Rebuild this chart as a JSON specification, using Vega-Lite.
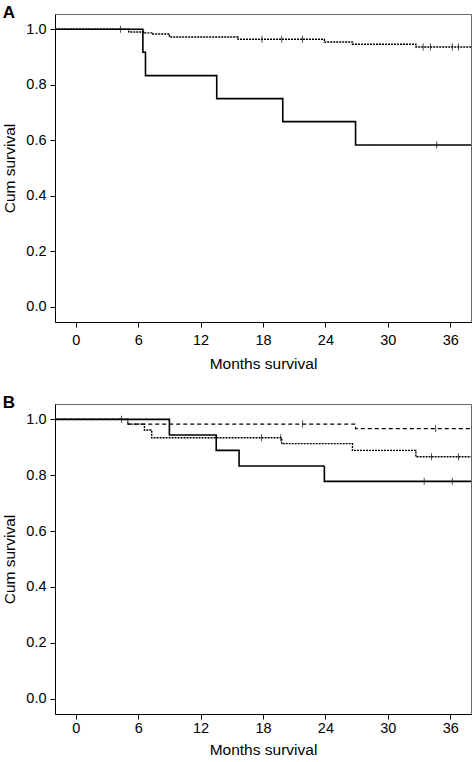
{
  "$schema": "https://vega.github.io/schema/vega-lite/v6.json",
  "padding": {"left": 2, "top": 3, "right": 1, "bottom": 0},
  "spacing": 20,
  "config": {
    "font": "Liberation Sans",
    "view": {"stroke": "#666", "strokeWidth": 1},
    "axis": {"grid": false, "domainColor": "#000", "tickColor": "#000", "labelColor": "#000", "titleColor": "#000", "labelFontSize": 14.5, "titleFontSize": 15.5, "titleFontWeight": "normal", "tickSize": 5, "labelFont": "Liberation Sans", "titleFont": "Liberation Sans"},
    "title": {"anchor": "start", "frame": "bounds", "fontSize": 17, "fontWeight": "bold", "offset": -8, "color": "#000", "font": "Liberation Sans"}
  },
  "datasets": {
    "km": [
      {"panel": "A", "group": "solid", "kind": "step", "t": -2, "s": 1.0},
      {"panel": "A", "group": "solid", "kind": "step", "t": 6.45, "s": 0.917},
      {"panel": "A", "group": "solid", "kind": "step", "t": 6.7, "s": 0.833},
      {"panel": "A", "group": "solid", "kind": "step", "t": 13.55, "s": 0.75},
      {"panel": "A", "group": "solid", "kind": "step", "t": 19.9, "s": 0.667},
      {"panel": "A", "group": "solid", "kind": "step", "t": 26.9, "s": 0.583},
      {"panel": "A", "group": "solid", "kind": "step", "t": 38, "s": 0.583},
      {"panel": "A", "group": "solid", "kind": "censor", "t": 34.7, "s": 0.583},
      {"panel": "A", "group": "dotted", "kind": "step", "t": -2, "s": 1.0},
      {"panel": "A", "group": "dotted", "kind": "step", "t": 5.1, "s": 0.99},
      {"panel": "A", "group": "dotted", "kind": "step", "t": 6.6, "s": 0.987},
      {"panel": "A", "group": "dotted", "kind": "step", "t": 7.4, "s": 0.983},
      {"panel": "A", "group": "dotted", "kind": "step", "t": 9.0, "s": 0.972},
      {"panel": "A", "group": "dotted", "kind": "step", "t": 15.6, "s": 0.964},
      {"panel": "A", "group": "dotted", "kind": "step", "t": 23.9, "s": 0.954},
      {"panel": "A", "group": "dotted", "kind": "step", "t": 26.6, "s": 0.946},
      {"panel": "A", "group": "dotted", "kind": "step", "t": 32.7, "s": 0.936},
      {"panel": "A", "group": "dotted", "kind": "step", "t": 38, "s": 0.936},
      {"panel": "A", "group": "dotted", "kind": "censor", "t": 4.3, "s": 1.0},
      {"panel": "A", "group": "dotted", "kind": "censor", "t": 17.9, "s": 0.964},
      {"panel": "A", "group": "dotted", "kind": "censor", "t": 19.8, "s": 0.964},
      {"panel": "A", "group": "dotted", "kind": "censor", "t": 21.8, "s": 0.964},
      {"panel": "A", "group": "dotted", "kind": "censor", "t": 33.4, "s": 0.936},
      {"panel": "A", "group": "dotted", "kind": "censor", "t": 34.1, "s": 0.936},
      {"panel": "A", "group": "dotted", "kind": "censor", "t": 36.2, "s": 0.936},
      {"panel": "A", "group": "dotted", "kind": "censor", "t": 36.8, "s": 0.936},
      {"panel": "B", "group": "solid", "kind": "step", "t": -2, "s": 1.0},
      {"panel": "B", "group": "solid", "kind": "step", "t": 9.0, "s": 0.944},
      {"panel": "B", "group": "solid", "kind": "step", "t": 13.5, "s": 0.889},
      {"panel": "B", "group": "solid", "kind": "step", "t": 15.7, "s": 0.833},
      {"panel": "B", "group": "solid", "kind": "step", "t": 23.9, "s": 0.778},
      {"panel": "B", "group": "solid", "kind": "step", "t": 38, "s": 0.778},
      {"panel": "B", "group": "solid", "kind": "censor", "t": 33.5, "s": 0.778},
      {"panel": "B", "group": "solid", "kind": "censor", "t": 36.2, "s": 0.778},
      {"panel": "B", "group": "dashed", "kind": "step", "t": -2, "s": 1.0},
      {"panel": "B", "group": "dashed", "kind": "step", "t": 5.0, "s": 0.983},
      {"panel": "B", "group": "dashed", "kind": "step", "t": 26.9, "s": 0.967},
      {"panel": "B", "group": "dashed", "kind": "step", "t": 38, "s": 0.967},
      {"panel": "B", "group": "dashed", "kind": "censor", "t": 4.4, "s": 1.0},
      {"panel": "B", "group": "dashed", "kind": "censor", "t": 21.8, "s": 0.983},
      {"panel": "B", "group": "dashed", "kind": "censor", "t": 34.6, "s": 0.967},
      {"panel": "B", "group": "dotted", "kind": "step", "t": -2, "s": 1.0},
      {"panel": "B", "group": "dotted", "kind": "step", "t": 5.0, "s": 0.983},
      {"panel": "B", "group": "dotted", "kind": "step", "t": 6.6, "s": 0.962},
      {"panel": "B", "group": "dotted", "kind": "step", "t": 7.3, "s": 0.934},
      {"panel": "B", "group": "dotted", "kind": "step", "t": 19.8, "s": 0.913},
      {"panel": "B", "group": "dotted", "kind": "step", "t": 26.6, "s": 0.889},
      {"panel": "B", "group": "dotted", "kind": "step", "t": 32.7, "s": 0.866},
      {"panel": "B", "group": "dotted", "kind": "step", "t": 38, "s": 0.866},
      {"panel": "B", "group": "dotted", "kind": "censor", "t": 17.85, "s": 0.934},
      {"panel": "B", "group": "dotted", "kind": "censor", "t": 19.7, "s": 0.934},
      {"panel": "B", "group": "dotted", "kind": "censor", "t": 34.2, "s": 0.866},
      {"panel": "B", "group": "dotted", "kind": "censor", "t": 36.8, "s": 0.866}
    ]
  },
  "vconcat": [
    {
      "title": "A",
      "width": 416,
      "height": 308,
      "data": {"name": "km"},
      "transform": [{"filter": "datum.panel === 'A'"}],
      "encoding": {
        "x": {"field": "t", "type": "quantitative", "scale": {"domain": [-2, 38], "nice": false, "zero": false}, "axis": {"values": [0, 6, 12, 18, 24, 30, 36], "title": "Months survival", "labelPadding": 6, "titlePadding": 10}},
        "y": {"field": "s", "type": "quantitative", "scale": {"domain": [-0.055, 1.055], "nice": false, "zero": false}, "axis": {"values": [0, 0.2, 0.4, 0.6, 0.8, 1.0], "format": ".1f", "title": "Cum survival", "labelPadding": 4, "titlePadding": 8}}
      },
      "layer": [
        {
          "transform": [{"filter": "datum.kind === 'step'"}],
          "mark": {"type": "line", "interpolate": "step-after", "color": "#000"},
          "encoding": {
            "detail": {"field": "group"},
            "strokeDash": {"field": "group", "type": "nominal", "scale": {"domain": ["solid", "dotted", "dashed"], "range": [[1, 0], [2, 1], [4, 3]]}, "legend": null},
            "strokeWidth": {"field": "group", "type": "nominal", "scale": {"domain": ["solid", "dotted", "dashed"], "range": [1.6, 1.2, 1.2]}, "legend": null}
          }
        },
        {
          "transform": [{"filter": "datum.kind === 'censor'"}],
          "mark": {"type": "tick", "orient": "vertical", "color": "#000", "size": 7, "thickness": 1}
        }
      ]
    },
    {
      "title": "B",
      "width": 416,
      "height": 310,
      "data": {"name": "km"},
      "transform": [{"filter": "datum.panel === 'B'"}],
      "encoding": {
        "x": {"field": "t", "type": "quantitative", "scale": {"domain": [-2, 38], "nice": false, "zero": false}, "axis": {"values": [0, 6, 12, 18, 24, 30, 36], "title": "Months survival", "labelPadding": 2, "titlePadding": 8}},
        "y": {"field": "s", "type": "quantitative", "scale": {"domain": [-0.055, 1.055], "nice": false, "zero": false}, "axis": {"values": [0, 0.2, 0.4, 0.6, 0.8, 1.0], "format": ".1f", "title": "Cum survival", "labelPadding": 4, "titlePadding": 8}}
      },
      "layer": [
        {
          "transform": [{"filter": "datum.kind === 'step'"}],
          "mark": {"type": "line", "interpolate": "step-after", "color": "#000"},
          "encoding": {
            "detail": {"field": "group"},
            "strokeDash": {"field": "group", "type": "nominal", "scale": {"domain": ["solid", "dotted", "dashed"], "range": [[1, 0], [2, 1], [4, 3]]}, "legend": null},
            "strokeWidth": {"field": "group", "type": "nominal", "scale": {"domain": ["solid", "dotted", "dashed"], "range": [1.6, 1.2, 1.2]}, "legend": null}
          }
        },
        {
          "transform": [{"filter": "datum.kind === 'censor'"}],
          "mark": {"type": "tick", "orient": "vertical", "color": "#000", "size": 7, "thickness": 1}
        }
      ]
    }
  ]
}
